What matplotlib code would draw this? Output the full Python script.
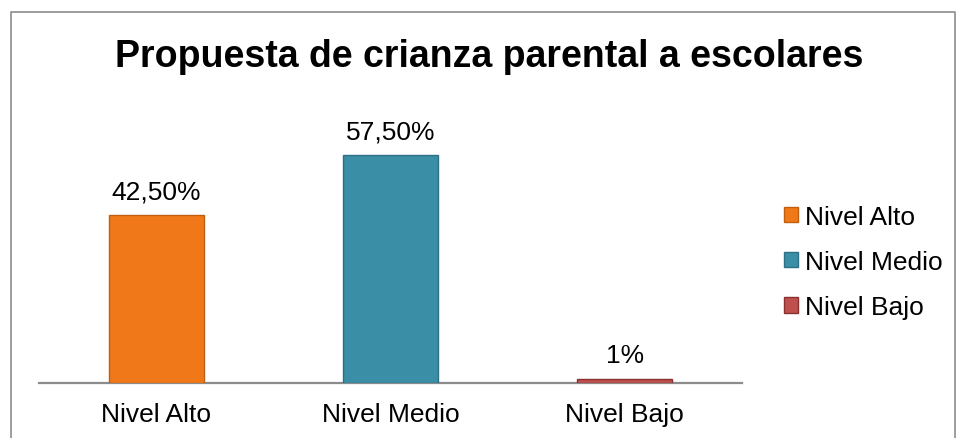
import matplotlib.pyplot as plt
from matplotlib.patches import Rectangle
from matplotlib.lines import Line2D

plt.rcParams['font.family'] = ['Liberation Sans', 'DejaVu Sans']

categorias = ['Nivel Alto', 'Nivel Medio', 'Nivel Bajo']
valores = [42.5, 57.5, 1.0]
etiquetas = ['42,50%', '57,50%', '1%']
colores = ['#F07818', '#3A8EA5', '#C0504D']
bordes = ['#C05F0F', '#2C7088', '#8A3030']

W, H = 956, 439
fig = plt.figure(figsize=(W / 100, H / 100), dpi=100)

# outer chart frame (left, top, right edges visible)
fx = lambda px: px / W
fy = lambda py: 1 - py / H
frame = Line2D([fx(10.5), fx(10.5), fx(955), fx(955)],
               [fy(439), fy(12.5), fy(12.5), fy(439)],
               transform=fig.transFigure, color='#8C8C8C', linewidth=1.2)
fig.lines.append(frame)

# plot area in pixels: x 39..742, baseline at y=384
ax = fig.add_axes([fx(39), fy(384), 703 / W, 277 / H])
x = range(len(categorias))
ax.bar(x, valores, width=0.405, color=colores, edgecolor=bordes, linewidth=1.0, zorder=3)
for i, (v, t) in enumerate(zip(valores, etiquetas)):
    ax.annotate(t, (i, v), xytext=(0, 12), textcoords='offset points',
                ha='center', va='baseline', fontsize=19)

ax.set_xlim(-0.5, 2.5)
ax.set_ylim(0, 70)
ax.set_xticks(list(x))
ax.set_xticklabels(categorias, fontsize=19)
ax.tick_params(axis='x', length=0, pad=14)
ax.set_yticks([])
for s in ['top', 'right', 'left']:
    ax.spines[s].set_visible(False)
ax.spines['bottom'].set_color('#8C8C8C')
ax.spines['bottom'].set_linewidth(1.6)

fig.text(fx(489), fy(67), 'Propuesta de crianza parental a escolares',
         ha='center', va='baseline', fontsize=27, fontweight='bold')

handles = [Rectangle((0, 0), 1, 1, facecolor=c, edgecolor=b) for c, b in zip(colores, bordes)]
fig.legend(handles, categorias, loc='center left', bbox_to_anchor=(fx(784), fy(263)),
           frameon=False, fontsize=19, handlelength=0.53, handleheight=0.53,
           handletextpad=0.25, labelspacing=0.8, borderpad=0, borderaxespad=0)

fig.savefig('out.png', dpi=100)
